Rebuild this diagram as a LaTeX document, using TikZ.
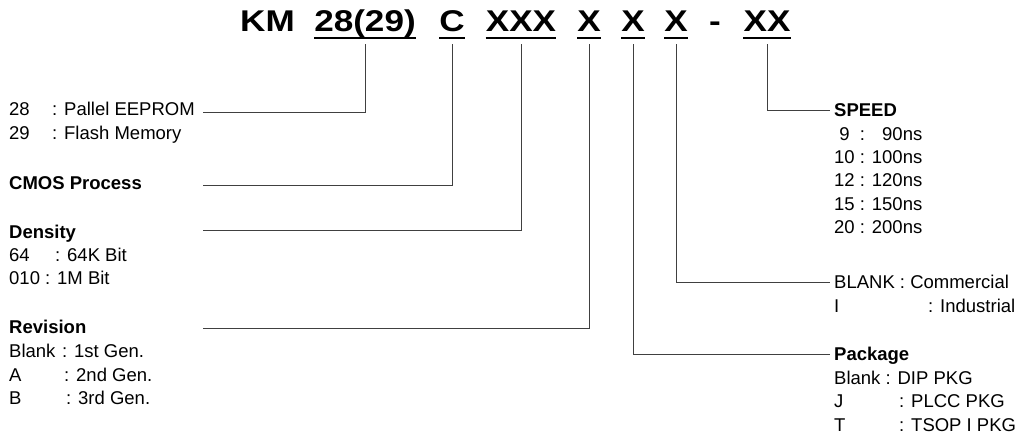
\documentclass[tikz,border=0pt]{standalone}
\usepackage{fontspec}
\usepackage{calc}
\setmainfont{Liberation Sans}
\newfontfamily\titlefont[FakeStretch=1.17]{Liberation Sans}
\usetikzlibrary{calc}

\tikzset{
  part/.style={anchor=base, inner sep=0pt, text depth=0pt,
    font=\titlefont\bfseries\fontsize{30bp}{30bp}\selectfont},
  lbl/.style={anchor=base west, inner sep=0pt,
    font=\fontsize{18.5bp}{22bp}\selectfont},
  head/.style={lbl, font=\fontsize{18.5bp}{22bp}\selectfont\bfseries},
  conn/.style={line width=0.8bp, black!75},
  uline/.style={line width=2bp}
}

\begin{document}
\begin{tikzpicture}[x=1bp,y=-1bp]
    \useasboundingbox (0,0) rectangle (1031,436);
    % part number
    \node[part] (tKM) at (267.5,32) {KM};
    \node[part] (t28) at (365,32) {28(29)};
    \node[part] (tC) at (452,32) {C};
    \node[part] (tXXX) at (521,32) {XXX};
    \node[part] (tXa) at (589,32) {X};
    \node[part] (tXb) at (633,32) {X};
    \node[part] (tXc) at (676,32) {X};
    \node[part] (tdash) at (715,32) {-};
    \node[part] (tXX) at (767,32) {XX};
    \foreach \p in {t28,tC,tXXX,tXa,tXb,tXc,tXX}
      \draw[uline] ([yshift=-6bp]\p.south west) -- ([yshift=-6bp]\p.south east);
    % left side
    \node[lbl] (l28) at (9,116) {\makebox[43bp][l]{28}: Pallel EEPROM};
    \node[lbl] (l29) at (9,139.3) {\makebox[43bp][l]{29}: Flash Memory};
    \node[head] (lCMOS) at (9,189.3) {CMOS Process};
    \node[head] (lDen) at (9,238.3) {Density};
    \node[lbl] (l64) at (9,261.7) {\makebox[46bp][l]{64}: 64K Bit};
    \node[lbl] (l010) at (9,285) {010 : 1M Bit};
    \node[head] (lRev) at (9,334) {Revision};
    \node[lbl] (lBlank) at (9,357.3) {\makebox[53bp][l]{Blank}: 1st Gen.};
    \node[lbl] (lA) at (9,381.7) {\makebox[55bp][l]{A}: 2nd Gen.};
    \node[lbl] (lB) at (9,405) {\makebox[57bp][l]{B}: 3rd Gen.};
    % right side
    \node[head] (rSpeed) at (834,117) {SPEED};
    \node[lbl] (r9) at (834,140.3) {\makebox[\widthof{10}]{9} : \makebox[\widthof{100ns}][r]{90ns}};
    \node[lbl] (r10) at (834,163.6) {10 : 100ns};
    \node[lbl] (r12) at (834,187) {12 : 120ns};
    \node[lbl] (r15) at (834,210.3) {15 : 150ns};
    \node[lbl] (r20) at (834,233.6) {20 : 200ns};
    \node[lbl] (rBlank) at (834,289) {BLANK : Commercial};
    \node[lbl] (rI) at (834,312.3) {\makebox[94bp][l]{I}: Industrial};
    \node[head] (rPkg) at (834,361) {Package};
    \node[lbl] (rDip) at (834,384.3) {Blank : DIP PKG};
    \node[lbl] (rJ) at (834,407.6) {\makebox[65bp][l]{J}: PLCC PKG};
    \node[lbl] (rT) at (834,431) {\makebox[65bp][l]{T}: TSOP I PKG};
    % line ends
    \coordinate (e28) at (203,112);
    \coordinate (eCMOS) at (203,185);
    \coordinate (eDen) at (203,230);
    \coordinate (eRev) at (203,328);
    \coordinate (eSpeed) at (830,110);
    \coordinate (eTemp) at (830,282);
    \coordinate (ePkg) at (830,354);
    % connectors
    \draw[conn] ([yshift=-12bp]t28.south) |- (e28);
    \draw[conn] ([yshift=-12bp]tC.south) |- (eCMOS);
    \draw[conn] ([yshift=-12bp]tXXX.south) |- (eDen);
    \draw[conn] ([yshift=-12bp]tXa.south) |- (eRev);
    \draw[conn] ([yshift=-12bp]tXb.south) |- (ePkg);
    \draw[conn] ([yshift=-12bp]tXc.south) |- (eTemp);
    \draw[conn] ([yshift=-12bp]tXX.south) |- (eSpeed);
\end{tikzpicture}
\end{document}
